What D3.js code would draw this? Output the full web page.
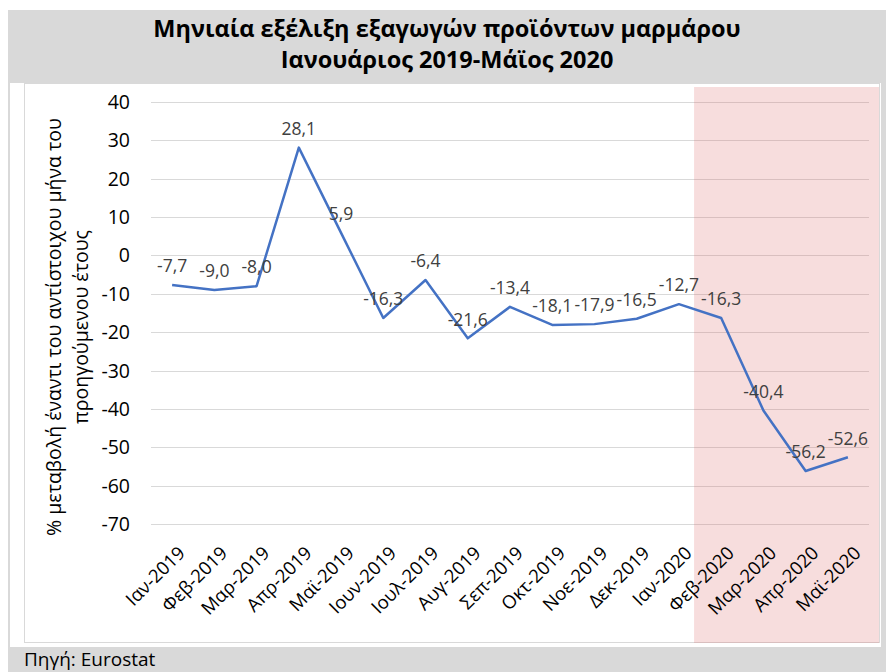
<!DOCTYPE html>
<html>
<head>
<meta charset="utf-8">
<script src="https://cdn.jsdelivr.net/npm/d3@7"></script>
<style>
  body { margin: 0; background: #fff; }
  svg { display: block; font-family: "Open Sans", "Noto Sans", sans-serif; }
</style>
</head>
<body>
<div id="chart"></div>
<script>
const months = ['Ιαν-2019', 'Φεβ-2019', 'Μαρ-2019', 'Απρ-2019', 'Μαϊ-2019', 'Ιουν-2019', 'Ιουλ-2019',
  'Αυγ-2019', 'Σεπ-2019', 'Οκτ-2019', 'Νοε-2019', 'Δεκ-2019', 'Ιαν-2020', 'Φεβ-2020', 'Μαρ-2020',
  'Απρ-2020', 'Μαϊ-2020'];
const changes = [-7.7, -9.0, -8.0, 28.1, 5.9, -16.3, -6.4, -21.6, -13.4, -18.1, -17.9, -16.5, -12.7,
  -16.3, -40.4, -56.2, -52.6];
const yTicks = [40, 30, 20, 10, 0, -10, -20, -30, -40, -50, -60, -70];
const titleLines = ['Μηνιαία εξέλιξη εξαγωγών προϊόντων μαρμάρου', 'Ιανουάριος 2019-Μάϊος 2020'];
const yTitleLines = ['% μεταβολή έναντι του αντίστοιχου μήνα  του', 'προηγούμενου έτους'];
const sourceText = 'Πηγή: Eurostat';
const highlightFrom = 'Φεβ-2020';

const W = 886, H = 672;
const plot = { left: 151, right: 869, top: 102, bottom: 524 };

const svg = d3.select('#chart').append('svg')
  .attr('width', W)
  .attr('height', H);

// gray frame, white inner area
svg.append('rect').attr('x', 8).attr('y', 10).attr('width', W - 8).attr('height', H - 10).attr('fill', '#d9d9d9');
svg.append('rect').attr('x', 10).attr('y', 83).attr('width', 871).attr('height', 564).attr('fill', '#fff');
svg.append('rect').attr('x', 24.5).attr('y', 83.5).attr('width', 855).attr('height', 559)
  .attr('fill', 'none').attr('stroke', '#d9d9d9');

const x = d3.scaleBand().domain(months).range([plot.left, plot.right]);
const y = d3.scaleLinear().domain([-70, 40]).range([plot.bottom, plot.top]);
const cx = d => x(d) + x.bandwidth() / 2;

// gridlines
svg.append('g')
  .selectAll('line')
  .data(yTicks)
  .join('line')
  .attr('x1', plot.left).attr('x2', plot.right)
  .attr('y1', d => Math.round(y(d)) + 0.5).attr('y2', d => Math.round(y(d)) + 0.5)
  .attr('stroke', '#d9d9d9').attr('stroke-width', 1.2);

// highlighted period
svg.append('rect')
  .attr('x', x(highlightFrom) - 6)
  .attr('y', 87)
  .attr('width', 879 - (x(highlightFrom) - 6))
  .attr('height', 643 - 87)
  .attr('fill', 'rgb(220,100,100)')
  .attr('fill-opacity', 0.22);

// y axis labels
svg.append('g')
  .selectAll('text')
  .data(yTicks)
  .join('text')
  .attr('x', 130)
  .attr('y', d => y(d))
  .attr('dy', '0.36em')
  .attr('text-anchor', 'end')
  .attr('font-size', 19.5)
  .attr('fill', '#000')
  .text(d => d);

// x axis labels
svg.append('g')
  .selectAll('text')
  .data(months)
  .join('text')
  .attr('transform', d => 'translate(' + (cx(d) + 5) + ',' + 545 + ') rotate(-45)')
  .attr('text-anchor', 'end')
  .attr('dy', '0.7em')
  .attr('font-size', 18.5)
  .attr('fill', '#000')
  .text(d => d);

// y axis title
const yt = svg.append('g').attr('transform', 'translate(0,327) rotate(-90)');
yt.selectAll('text')
  .data(yTitleLines)
  .join('text')
  .attr('x', 0)
  .attr('y', (d, i) => 61 + i * 27)
  .attr('text-anchor', 'middle')
  .attr('font-size', 19.5)
  .attr('fill', '#000')
  .text(d => d);

// line
svg.append('path')
  .datum(changes)
  .attr('fill', 'none')
  .attr('stroke', '#4472c4')
  .attr('stroke-width', 2.5)
  .attr('stroke-linejoin', 'round')
  .attr('d', d3.line().x((d, i) => cx(months[i])).y(d => y(d)));

// data labels
const fmt = v => v.toFixed(1).replace('.', ',');
svg.append('g')
  .selectAll('text')
  .data(changes)
  .join('text')
  .attr('x', (d, i) => cx(months[i]))
  .attr('y', d => y(d) - 19)
  .attr('dy', '0.36em')
  .attr('text-anchor', 'middle')
  .attr('font-size', 17.5)
  .attr('fill', '#404040')
  .text(fmt);

// title
svg.append('g')
  .selectAll('text')
  .data(titleLines)
  .join('text')
  .attr('x', 447)
  .attr('y', (d, i) => 37 + i * 31)
  .attr('text-anchor', 'middle')
  .attr('font-size', 23.5)
  .attr('font-weight', 'bold')
  .attr('fill', '#000')
  .text(d => d);

// source
svg.append('text')
  .attr('x', 24)
  .attr('y', 666)
  .attr('font-size', 19)
  .attr('fill', '#000')
  .text(sourceText);
</script>
</body>
</html>
